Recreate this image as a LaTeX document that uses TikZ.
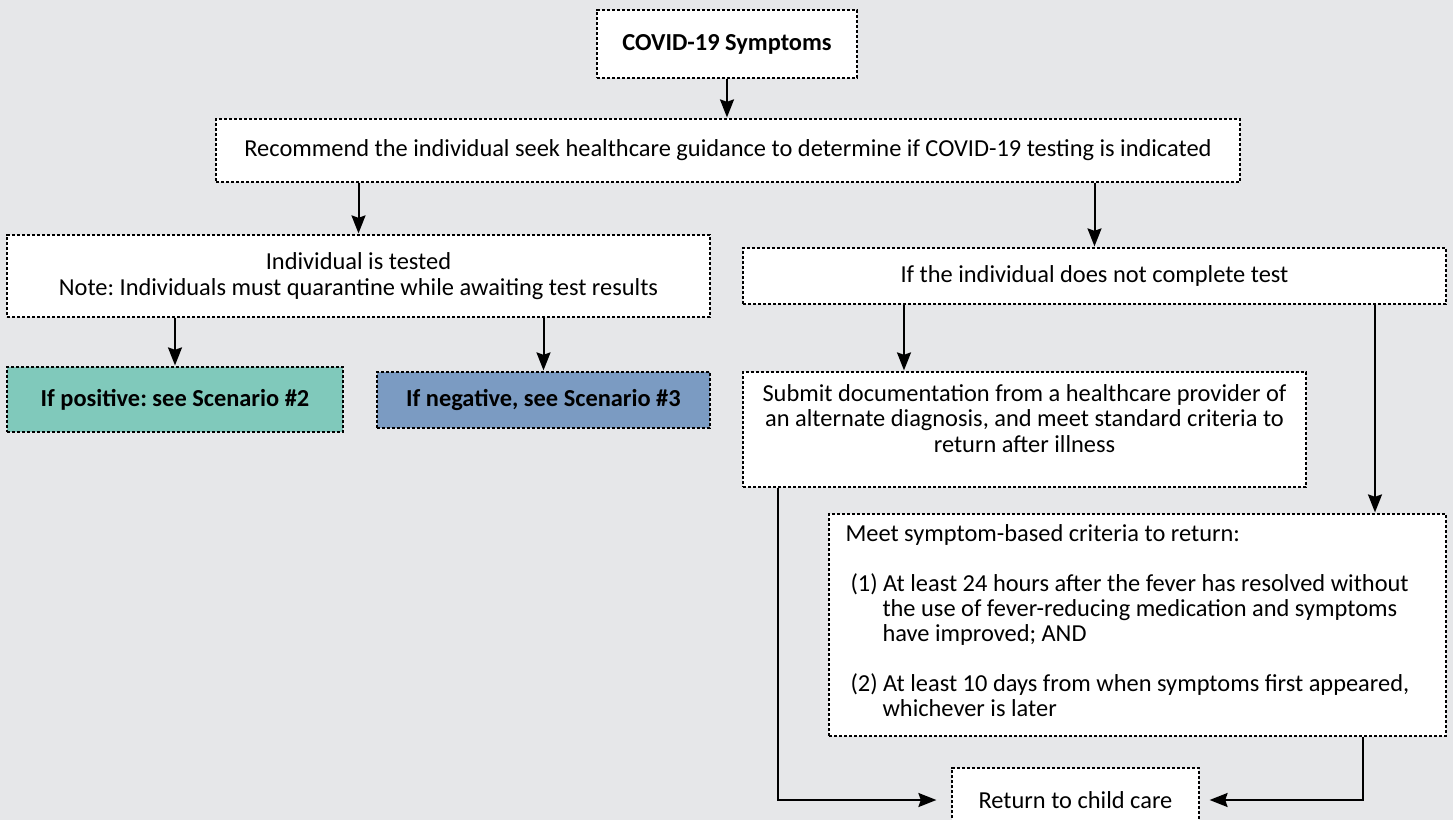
\documentclass[tikz,border=0pt]{standalone}
\usepackage{fontspec}
\setmainfont{Carlito}
\usepackage{tikz}
\usetikzlibrary{positioning,arrows.meta}
\definecolor{pagegray}{HTML}{E6E7E9}
\definecolor{posteal}{HTML}{80C9BB}
\definecolor{negblue}{HTML}{7B9BC2}
\colorlet{boxline}{black}
\frenchspacing
\newcommand{\flowfont}{\fontsize{12.2}{13}\selectfont}
\tikzset{
  flowbox/.style={draw=boxline, line width=0.6pt, dash pattern=on 1.6pt off 0.9pt, fill=white,
    inner sep=0pt, align=center, font=\flowfont},
  flowbold/.style={flowbox, font=\flowfont\bfseries},
  flowarrow/.style={-{Stealth[length=9pt,width=7pt,inset=1.2pt]}, line width=1pt, shorten >=0.5pt},
}

\begin{document}
\begin{tikzpicture}[x=0.5pt, y=-0.5pt] % positions are taken in pixels of the page
\fill[pagegray] (0,0) rectangle (1453,820);
\useasboundingbox (0,0) rectangle (1453,820);

% boxes
\node[flowbold, minimum width=130pt, minimum height=34pt] (symptoms) at (727,44) {COVID-19 Symptoms};
\node[flowbox, minimum width=512pt, minimum height=31.5pt] (recommend) at (728,150.5)
  {Recommend the individual seek healthcare guidance to determine if COVID-19 testing is indicated};
\node[flowbox, minimum width=351.5pt, minimum height=41pt] (tested) at (358.5,276)
  {Individual is tested\\Note: Individuals must quarantine while awaiting test results};
\node[flowbox, minimum width=351.5pt, minimum height=28pt] (notest) at (1094.5,276)
  {If the individual does not complete test};
\node[flowbold, fill=posteal, minimum width=168pt, minimum height=32.5pt] (positive) at (175,399.5)
  {If positive: see Scenario \#2};
\node[flowbold, fill=negblue, minimum width=166.5pt, minimum height=28pt] (negative) at (543.5,400)
  {If negative, see Scenario \#3};
\node[flowbox, minimum width=281.5pt, minimum height=57.5pt] (submit) at (1024.5,429.5)
  {\parbox[c][45pt][t]{278pt}{\centering\fontsize{12.2}{12.75}\selectfont
   Submit documentation from a healthcare provider of\\
   an alternate diagnosis, and meet standard criteria to\\
   return after illness}};
\node[flowbox, minimum width=308.5pt, minimum height=111pt] (criteria) at (1137.5,625)
  {\parbox[c][100pt][t]{292pt}{\raggedright\fontsize{12.2}{12.5}\selectfont\parskip=12.5pt
   Meet symptom-based criteria to return:\par
   \hangindent=18.5pt\hangafter=1\hspace*{2.5pt}(1) At least 24 hours after the fever has resolved without\newline
   the use of fever-reducing medication and symptoms\newline
   have improved; AND\par
   \hangindent=18.5pt\hangafter=1\hspace*{2.5pt}(2) At least 10 days from when symptoms first appeared,\newline
   whichever is later\par}};
\node[flowbox, minimum width=123.5pt, minimum height=32pt] (return) at (1075.5,800) {Return to child care};

% lanes for the bent connectors
\coordinate (lanesub) at (904,0);
\coordinate (lanecrit) at (1375,0);
\coordinate (laneleft) at (778,0);
\coordinate (laneright) at (1363,0);

% connectors
\draw[flowarrow] (symptoms.south) -- (symptoms.south |- recommend.north);
\draw[flowarrow] (tested.north |- recommend.south) -- (tested.north);
\draw[flowarrow] (notest.north |- recommend.south) -- (notest.north);
\draw[flowarrow] (positive.north |- tested.south) -- (positive.north);
\draw[flowarrow] (negative.north |- tested.south) -- (negative.north);
\draw[flowarrow] (notest.south -| lanesub) -- (submit.north -| lanesub);
\draw[flowarrow] (notest.south -| lanecrit) -- (criteria.north -| lanecrit);
\draw[flowarrow, shorten >=7.5pt] (submit.south -| laneleft) |- (return.west);
\draw[flowarrow, shorten >=5pt] (criteria.south -| laneright) |- (return.east);
\end{tikzpicture}
\end{document}
